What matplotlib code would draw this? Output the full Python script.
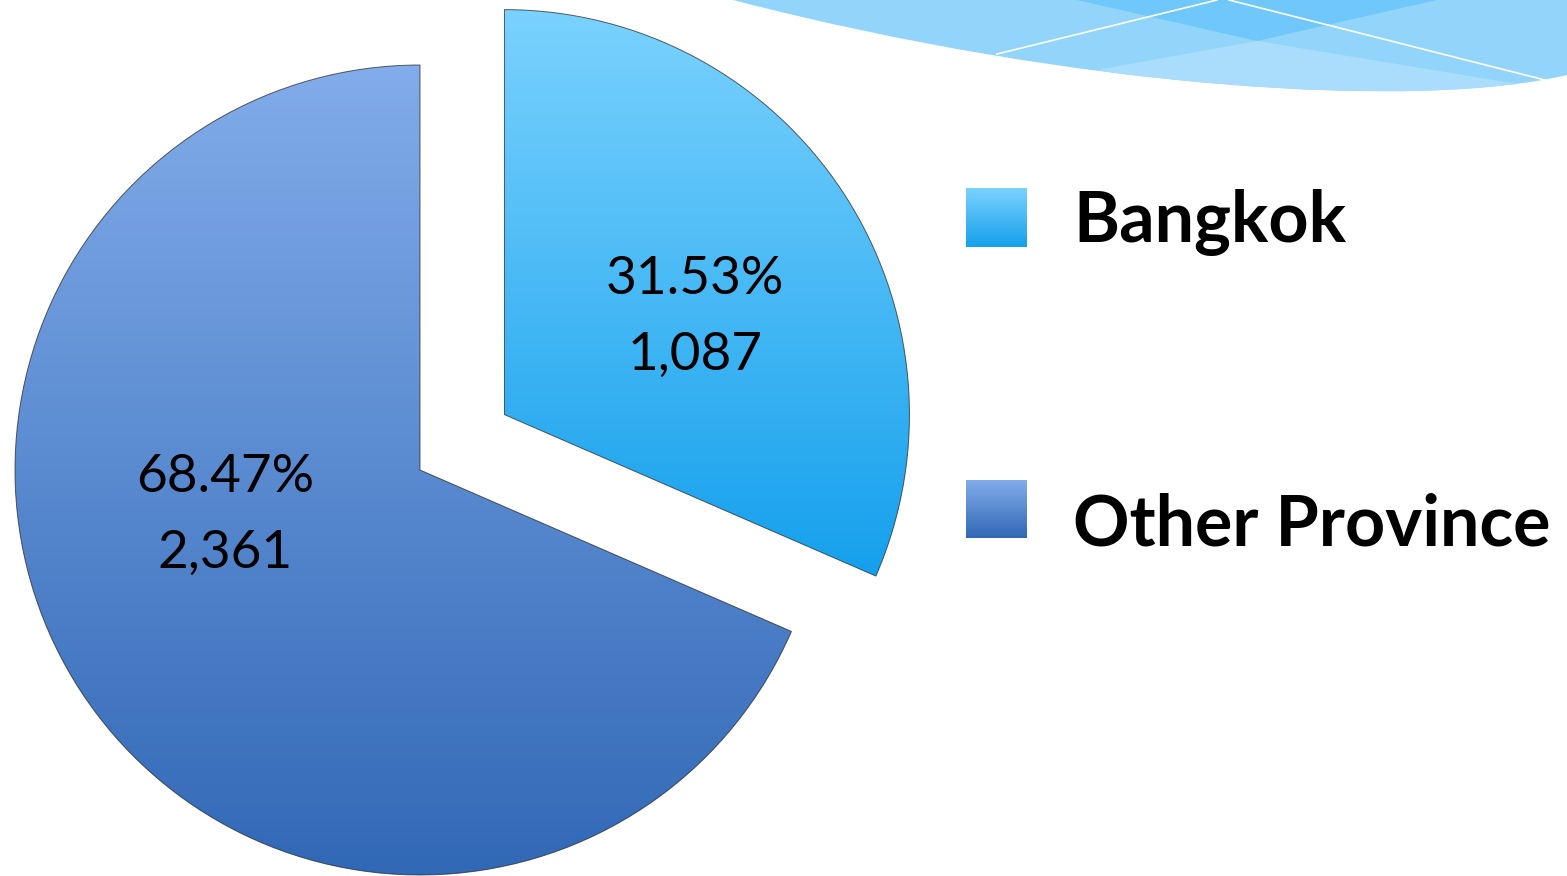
import matplotlib.pyplot as plt
import numpy as np
from matplotlib.colors import LinearSegmentedColormap
from matplotlib.patches import Polygon, PathPatch
from matplotlib.path import Path

W, H = 1567, 876

regions = ['Bangkok', 'Other Province']
counts = [1087, 2361]
shares = [31.53, 68.47]

top_colors = ['#7AD2FE', '#82ACEA']
bottom_colors = ['#15A0EC', '#3168B6']

plt.rcParams['font.family'] = ['Lato', 'DejaVu Sans']

fig = plt.figure(figsize=(W / 100, H / 100), dpi=100, facecolor='white')
ax = fig.add_axes([0, 0, 1, 1])


def py(y):
    # pixel row (top-down) -> data y
    return H - y


def gradient(extent, c0, c1, clip=None, z=1):
    cmap = LinearSegmentedColormap.from_list('g', [c0, c1])
    grad = np.linspace(0, 1, 256).reshape(-1, 1)
    im = ax.imshow(grad, extent=extent, cmap=cmap, aspect='auto',
                   origin='upper', zorder=z, interpolation='bilinear')
    if clip is not None:
        im.set_clip_path(clip)
    return im


# decorative wave, top right
wave_path = Path(
    [(733, py(0)), (1080, py(90)), (1420, py(110)), (1567, py(75)),
     (1567, py(0)), (733, py(0))],
    [Path.MOVETO, Path.CURVE4, Path.CURVE4, Path.CURVE4,
     Path.LINETO, Path.CLOSEPOLY])
wave = PathPatch(wave_path, facecolor='#93D5FA', edgecolor='none', zorder=0)
ax.add_patch(wave)
dark = Polygon([(1077, py(0)), (1257, py(41)), (1437, py(0))], closed=True,
               facecolor='#6FC8F9', edgecolor='none', zorder=0.1)
ax.add_patch(dark)
light = Polygon([(1097, py(70)), (1257, py(41)), (1530, py(86)), (1300, py(110))],
                closed=True, facecolor='#A9DDFB', edgecolor='none', zorder=0.1)
ax.add_patch(light)
light.set_clip_path(wave)
ax.plot([997, 1217], [py(54), py(0)], color='white', lw=1.2, zorder=0.2)
ax.plot([1229, 1545], [py(0), py(80)], color='white', lw=1.2, zorder=0.2)

# pie
wedges, _ = ax.pie(counts, startangle=90, counterclock=False,
                   center=(420, py(470)), radius=405, explode=(101, 0),
                   wedgeprops=dict(edgecolor=(0.12, 0.12, 0.12, 0.7), linewidth=0.7))
for w, c0, c1 in zip(wedges, top_colors, bottom_colors):
    v = w.get_path().vertices
    ext = [v[:, 0].min(), v[:, 0].max(), v[:, 1].min(), v[:, 1].max()]
    w.set_facecolor('none')
    w.set_zorder(2)
    gradient(ext, c0, c1, clip=w)

# slice labels
label_xy = [(695, 280, 355), (225, 478, 553)]
label_texts = []
for (x, y1, y2), s, c in zip(label_xy, shares, counts):
    t1 = ax.text(x, py(y1), f'{s:.2f}%', ha='center', va='center',
                 fontsize=40, color='black', zorder=5)
    t2 = ax.text(x, py(y2), f'{c:,}', ha='center', va='center',
                 fontsize=40, color='black', zorder=5)
    label_texts += [t1, t2]

# legend
legend_rows = [(188, 247, 242), (480, 538, 545)]
legend_texts = []
for (y0, y1, yb), name, c0, c1 in zip(legend_rows, regions, top_colors, bottom_colors):
    gradient([966, 1027, py(y1), py(y0)], c0, c1, z=3)
    t = ax.text(1073, py(yb), name, ha='left', va='baseline',
                fontsize=50, fontweight='bold', color='black', zorder=5)
    legend_texts.append(t)

ax.set_xlim(0, W)
ax.set_ylim(0, H)
ax.set_aspect('equal')
ax.axis('off')

# size fonts to match widths in the original
fig.canvas.draw()
bw = legend_texts[1].get_window_extent().width
fs = legend_texts[1].get_fontsize() * 479 / bw
for t in legend_texts:
    t.set_fontsize(fs)
bw = label_texts[2].get_window_extent().width
fs = label_texts[2].get_fontsize() * 178 / bw
for t in label_texts:
    t.set_fontsize(fs)

fig.savefig('out.png', dpi=100, facecolor='white')
plt.close(fig)
